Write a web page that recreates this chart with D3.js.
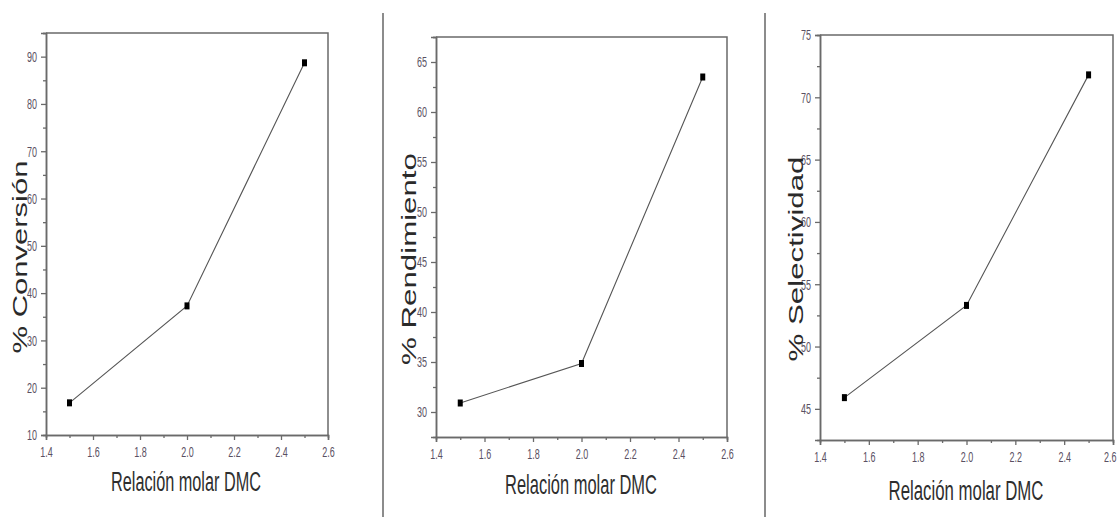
<!DOCTYPE html>
<html>
<head>
<meta charset="utf-8">
<script src="https://cdn.jsdelivr.net/npm/d3@7"></script>
<style>
  html, body { margin: 0; padding: 0; background: #fff; }
  svg { display: block; }
</style>
</head>
<body>
<svg id="chart" width="1118" height="517"></svg>
<script>
// ─── Data ───
const xValues = [1.5, 2.0, 2.5];
const conversionValues = [16.8, 37.3, 88.7];
const rendimientoValues = [30.9, 34.85, 63.5];
const selectividadValues = [45.9, 53.3, 71.8];

const xTicks = [1.4, 1.6, 1.8, 2.0, 2.2, 2.4, 2.6];
const xMinorTicks = [1.5, 1.7, 1.9, 2.1, 2.3, 2.5];

const conversionTicks = [10, 20, 30, 40, 50, 60, 70, 80, 90];
const conversionMinor = [15, 25, 35, 45, 55, 65, 75, 85, 95];
const rendimientoTicks = [30, 35, 40, 45, 50, 55, 60, 65];
const rendimientoMinor = [32.5, 37.5, 42.5, 47.5, 52.5, 57.5, 62.5, 67.5];
const selectividadTicks = [45, 50, 55, 60, 65, 70, 75];
const selectividadMinor = [47.5, 52.5, 57.5, 62.5, 67.5, 72.5];

const yTitles = ["% Conversión", "% Rendimiento", "% Selectividad"];
const xTitle = "Relación molar DMC";

// ─── Layout (pixels) ───
const W = 1118;
const xDomain = [1.4, 2.6];
const panels = [
  {
    values: conversionValues, ticks: conversionTicks, minor: conversionMinor,
    yDomain: [10, 95], title: yTitles[0],
    box: { left: 46, right: 328, top: 33, bottom: 435 },
    yTitle: { x: 27, y: 257, len: 193 },
    xTitleBox: { x: 186, y: 491, len: 150 },
  },
  {
    values: rendimientoValues, ticks: rendimientoTicks, minor: rendimientoMinor,
    yDomain: [27.5, 67.5], title: yTitles[1],
    box: { left: 436, right: 727, top: 37, bottom: 437 },
    yTitle: { x: 416, y: 259, len: 212 },
    xTitleBox: { x: 581, y: 494, len: 152 },
  },
  {
    values: selectividadValues, ticks: selectividadTicks, minor: selectividadMinor,
    yDomain: [42.5, 75], title: yTitles[2],
    box: { left: 820, right: 1113, top: 35, bottom: 440 },
    yTitle: { x: 803, y: 259, len: 205 },
    xTitleBox: { x: 966, y: 500, len: 155 },
  },
];
const separators = [383, 765];

const AXIS_COLOR = "#6a6a6a";
const LABEL_COLOR = "#5a5062";
const TEXT_SQUEEZE = 0.6;
const FONT = "'Liberation Sans', Arial, sans-serif";

const svg = d3.select("#chart");

// ─── Panel separators ───
svg.selectAll("line.sep")
  .data(separators)
  .join("line")
  .attr("class", "sep")
  .attr("x1", (d) => d).attr("x2", (d) => d)
  .attr("y1", 13).attr("y2", 517)
  .attr("stroke", "#666")
  .attr("stroke-width", 1.5);

function styleAxis(g) {
  g.select(".domain").attr("stroke", AXIS_COLOR).attr("stroke-width", 1.5);
  g.selectAll(".tick line").attr("stroke", AXIS_COLOR).attr("stroke-width", 1.3);
}

panels.forEach((p) => {
  const b = p.box;
  const x = d3.scaleLinear().domain(xDomain).range([b.left, b.right]);
  const y = d3.scaleLinear().domain(p.yDomain).range([b.bottom, b.top]);
  const g = svg.append("g");

  // ── Frame (top + right) ──
  g.append("path")
    .attr("d", `M${b.left},${b.top}H${b.right}V${b.bottom}`)
    .attr("fill", "none")
    .attr("stroke", AXIS_COLOR)
    .attr("stroke-width", 1.5);

  // ── Minor ticks ──
  g.append("g")
    .attr("transform", `translate(0,${b.bottom})`)
    .call(d3.axisBottom(x).tickValues(xMinorTicks).tickSize(3).tickFormat(""))
    .call(styleAxis);
  g.append("g")
    .attr("transform", `translate(${b.left},0)`)
    .call(d3.axisLeft(y).tickValues(p.minor.filter((v) => v <= p.yDomain[1])).tickSize(3).tickFormat(""))
    .call(styleAxis);

  // ── Major axes ──
  const gx = g.append("g")
    .attr("transform", `translate(0,${b.bottom})`)
    .call(d3.axisBottom(x).tickValues(xTicks).tickSize(5).tickPadding(6).tickFormat(d3.format(".1f")))
    .call(styleAxis);
  gx.selectAll("text")
    .attr("transform", `scale(${TEXT_SQUEEZE},1)`)
    .style("font-family", FONT)
    .style("font-size", "15px")
    .attr("fill", LABEL_COLOR);
  // keep the last label inside the page
  gx.selectAll(".tick").each(function (d) {
    const t = d3.select(this).select("text");
    const half = (t.node().getComputedTextLength() * TEXT_SQUEEZE) / 2;
    const over = x(d) + half - (W - 2);
    if (over > 0) t.attr("x", -over / TEXT_SQUEEZE);
  });

  const gy = g.append("g")
    .attr("transform", `translate(${b.left},0)`)
    .call(d3.axisLeft(y).tickValues(p.ticks).tickSize(5).tickPadding(4))
    .call(styleAxis);
  gy.selectAll("text")
    .attr("x", -9 / TEXT_SQUEEZE)
    .attr("transform", `scale(${TEXT_SQUEEZE},1)`)
    .style("font-family", FONT)
    .style("font-size", "15px")
    .attr("fill", LABEL_COLOR);

  // ── Line + markers ──
  const pts = xValues.map((xv, i) => [xv, p.values[i]]);
  g.append("path")
    .datum(pts)
    .attr("fill", "none")
    .attr("stroke", "#555")
    .attr("stroke-width", 1.1)
    .attr("d", d3.line().x((d) => x(d[0])).y((d) => y(d[1])));

  g.selectAll("rect.pt")
    .data(pts)
    .join("rect")
    .attr("class", "pt")
    .attr("x", (d) => x(d[0]) - 2.5)
    .attr("y", (d) => y(d[1]) - 3.5)
    .attr("width", 5)
    .attr("height", 7)
    .attr("fill", "#000");

  // ── Axis titles (condensed via scale) ──
  const xt = g.append("text")
    .attr("text-anchor", "middle")
    .style("font-family", FONT)
    .style("font-size", "27px")
    .attr("fill", "#2e2e2e")
    .text(xTitle);
  const sx = p.xTitleBox.len / xt.node().getComputedTextLength();
  xt.attr("transform", `translate(${p.xTitleBox.x},${p.xTitleBox.y}) scale(${sx},1)`);

  const yt = g.append("text")
    .attr("text-anchor", "middle")
    .style("font-family", FONT)
    .style("font-size", "30px")
    .attr("fill", "#2a2a2a")
    .text(p.title);
  const sy = p.yTitle.len / yt.node().getComputedTextLength();
  yt.attr("transform", `translate(${p.yTitle.x},${p.yTitle.y}) scale(0.68,${sy}) rotate(-90)`);
});
</script>
</body>
</html>
